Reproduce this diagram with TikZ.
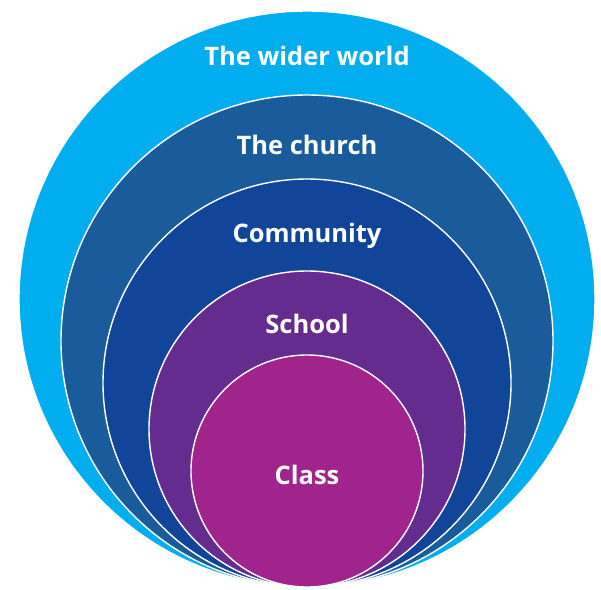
\documentclass[tikz,border=0pt]{standalone}
\usepackage{fontspec}
\setmainfont{Open Sans}
\usepackage{tikz}
\usetikzlibrary{positioning}

\definecolor{worldcol}{HTML}{00AEEF}
\definecolor{churchcol}{HTML}{1A5C9B}
\definecolor{commcol}{HTML}{10459A}
\definecolor{schoolcol}{HTML}{652C8F}
\definecolor{classcol}{HTML}{A1238C}

\begin{document}
\begin{tikzpicture}[
  x=1pt, y=1pt,
  ring/.style={draw=white,line width=1.4pt,circle,inner sep=0pt,outer sep=0pt},
  lbl/.style={text=white,font=\fontsize{25.5}{28}\selectfont\bfseries,inner sep=0pt}
]
\useasboundingbox (0,0) rectangle (601,-589);

% Rings, all touching at the bottom
\node[ring, fill=worldcol, minimum size=576] (world) at (307,-299) {};
\node[ring, fill=churchcol, minimum size=492] (church) at (307,-341) {};
\node[ring, fill=commcol, minimum size=408] (comm) at (307,-383) {};
\node[ring, fill=schoolcol, minimum size=316] (school) at (307,-429) {};
\node[ring, fill=classcol, minimum size=232] (class) at (307,-471) {};

% Labels
\node[lbl] (worldlbl) at (307,-56) {The wider world};
\node[lbl] (churchlbl) at (307,-145) {The church};
\node[lbl] (commlbl) at (307,-236) {Community};
\node[lbl] (schoollbl) at (307,-324) {School};
\node[lbl] (classlbl) at (307,-475) {Class};
\end{tikzpicture}
\end{document}
